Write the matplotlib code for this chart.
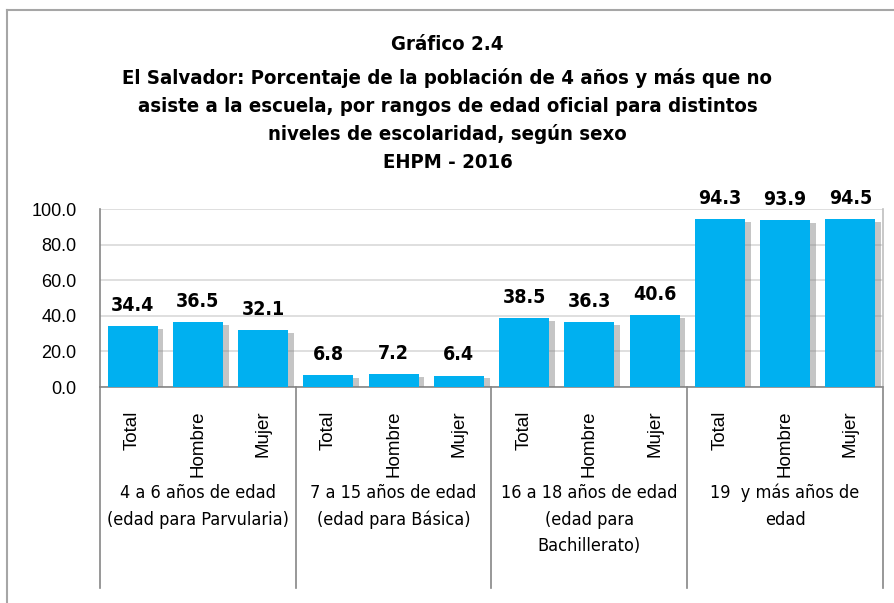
import matplotlib
matplotlib.use("Agg")
import matplotlib.pyplot as plt
import matplotlib.patheffects as pe
from matplotlib.lines import Line2D
from matplotlib import font_manager as fm

groups = ["4 a 6 años de edad\n(edad para Parvularia)",
          "7 a 15 años de edad\n(edad para Básica)",
          "16 a 18 años de edad\n(edad para\nBachillerato)",
          "19  y más años de\nedad"]
sexes = ["Total", "Hombre", "Mujer"]
values = [34.4, 36.5, 32.1, 6.8, 7.2, 6.4, 38.5, 36.3, 40.6, 94.3, 93.9, 94.5]
yticks = [0, 20, 40, 60, 80, 100]
title_lines = ["Gráfico 2.4",
               "El Salvador: Porcentaje de la población de 4 años y más que no",
               "asiste a la escuela, por rangos de edad oficial para distintos",
               "niveles de escolaridad, según sexo",
               "EHPM - 2016"]

cond = [f for f in fm.fontManager.ttflist
        if f.name in ("DejaVu Sans", "DejaVu Sans Condensed") and "ondensed" in f.fname]
NARROW = dict(family=[cond[0].name] if cond else ["DejaVu Sans"], stretch="condensed")
ARIAL = ["Liberation Sans", "DejaVu Sans"]

W, H = 895, 603
fig = plt.figure(figsize=(W / 100, H / 100), dpi=100)
fig.patch.set_facecolor("white")

L, R, T, B = 100, 883, 209, 387
ax = fig.add_axes([L / W, 1 - B / H, (R - L) / W, (B - T) / H])

n = len(values)
xs = list(range(n))
bars = ax.bar(xs, values, width=0.77, color="#00B0F0", zorder=3)
for b in bars:
    b.set_path_effects([pe.SimplePatchShadow(offset=(4, -2), shadow_rgbFace="#808080", alpha=0.45),
                        pe.Normal()])

for x, v in zip(xs, values):
    ax.annotate(f"{v:.1f}", (x, v), xytext=(0, 8), textcoords="offset points",
                ha="center", va="bottom", fontsize=14, fontweight="bold",
                annotation_clip=False, **NARROW)

ax.set_xlim(-0.5, n - 0.5)
ax.set_ylim(0, 100)
ax.set_yticks(yticks)
ax.set_yticklabels([f"{t:.1f}" for t in yticks], family=ARIAL, fontsize=13)
ax.tick_params(axis="y", length=0, pad=17)
ax.yaxis.grid(True, color="#D9D9D9", lw=1.2, zorder=0)
ax.set_axisbelow(True)

ax.set_xticks(xs)
ax.set_xticklabels(sexes * len(groups), rotation=90, family=ARIAL, fontsize=13.5)
ax.tick_params(axis="x", length=0, pad=17)

ax.spines["top"].set_visible(False)
for s in ["left", "bottom", "right"]:
    ax.spines[s].set_color("#868686")
    ax.spines[s].set_linewidth(1.2)
ax.spines["right"].set_color("#BFBFBF")

trans = ax.get_xaxis_transform()
sep_bottom = -(588 - B) / (B - T)
for k in range(len(groups) + 1):
    xsep = -0.5 + 3 * k
    ax.add_line(Line2D([xsep, xsep], [0, sep_bottom], transform=trans,
                       color="#868686", lw=1.2, clip_on=False))

for g, label in enumerate(groups):
    ax.text(3 * g + 1, -(484 - B) / (B - T), label, transform=trans,
            ha="center", va="top", fontsize=13, linespacing=1.62, **NARROW)

title_y = [45, 78, 106, 134, 162]
for yy, line in zip(title_y, title_lines):
    fig.text(0.5, 1 - yy / H, line, ha="center", va="center",
             fontsize=14.6, fontweight="bold", **NARROW)

fig.add_artist(Line2D([7 / W, 1], [1 - 10 / H, 1 - 10 / H], transform=fig.transFigure,
                      color="#A6A6A6", lw=1.5))
fig.add_artist(Line2D([7 / W, 7 / W], [1 - 10 / H, 0], transform=fig.transFigure,
                      color="#A6A6A6", lw=1.5))

fig.savefig("out.png", dpi=100)
